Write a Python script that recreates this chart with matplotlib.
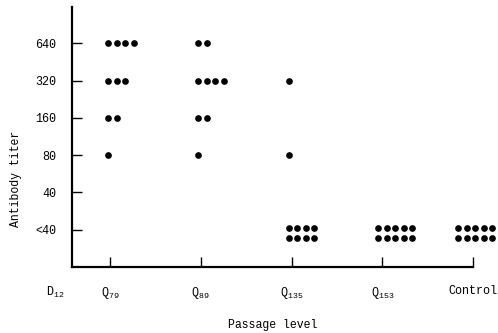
import numpy as np
import matplotlib
matplotlib.use('Agg')
import matplotlib.pyplot as plt
from matplotlib import transforms

plt.rcParams['font.family'] = ['Liberation Mono', 'DejaVu Sans']
plt.rcParams['mathtext.fontset'] = 'custom'
plt.rcParams['mathtext.rm'] = 'Liberation Mono'
plt.rcParams['mathtext.it'] = 'Liberation Mono'

# passage levels and titer classes
passages = [r'Q$_{79}$', r'Q$_{89}$', r'Q$_{135}$', r'Q$_{153}$', 'Control']
titers = ['<40', '40', '80', '160', '320', '640']

# number of animals at each titer (<40, 40, 80, 160, 320, 640)
q79 = [0, 0, 1, 2, 3, 4]
q89 = [0, 0, 1, 2, 4, 2]
q135 = [8, 0, 1, 0, 1, 0]
q153 = [10, 0, 0, 0, 0, 0]
control = [10, 0, 0, 0, 0, 0]
groups = [q79, q89, q135, q153, control]

xpos = np.arange(1, len(passages) + 1)
start = [-0.02, -0.03, -0.03, -0.045, -0.165]  # first dot offset from the tick
dx = 0.094
row_off = [0.05, -0.23]

fig = plt.figure(figsize=(4.98, 3.33), dpi=100)
ax = fig.add_axes([0.1446, 0.198, 0.8052, 0.781])

for i, counts in enumerate(groups):
    for lev, n in enumerate(counts):
        if n == 0:
            continue
        if n > 5:
            per = int(np.ceil(n / 2))
            rows = [(per, row_off[0]), (n - per, row_off[1])]
        else:
            rows = [(n, 0.0)]
        for k, off in rows:
            xs = xpos[i] + start[i] + dx * np.arange(k)
            ax.plot(xs, np.full(k, lev + off), 'o', color='black',
                    ms=3.8, clip_on=False)

ax.set_xlim(0.581, 5.0)
ax.set_ylim(-1, 5.97)
ax.set_xticks(xpos)
ax.set_xticklabels(passages)
ax.set_yticks(np.arange(len(titers)))
ax.set_yticklabels(titers)

for s in ['top', 'right']:
    ax.spines[s].set_visible(False)
for s in ['left', 'bottom']:
    ax.spines[s].set_linewidth(1.6)

ax.tick_params(axis='both', direction='in', length=7.5, width=1.0,
               labelsize=8.5)
ax.tick_params(axis='x', pad=13)
ax.tick_params(axis='y', pad=11.5)

ax.set_xlabel('Passage level', fontsize=8.3)
ax.xaxis.set_label_coords(0.5, -0.2)
ax.set_ylabel('Antibody titer', fontsize=8.3)
ax.yaxis.set_label_coords(-0.125, 0.34)

trans = transforms.blended_transform_factory(ax.transData, ax.transAxes)
ax.text(0.394, -0.069, r'D$_{12}$', transform=trans, ha='center', va='top',
        fontsize=8.5, clip_on=False)

fig.savefig('out.png', dpi=100)
